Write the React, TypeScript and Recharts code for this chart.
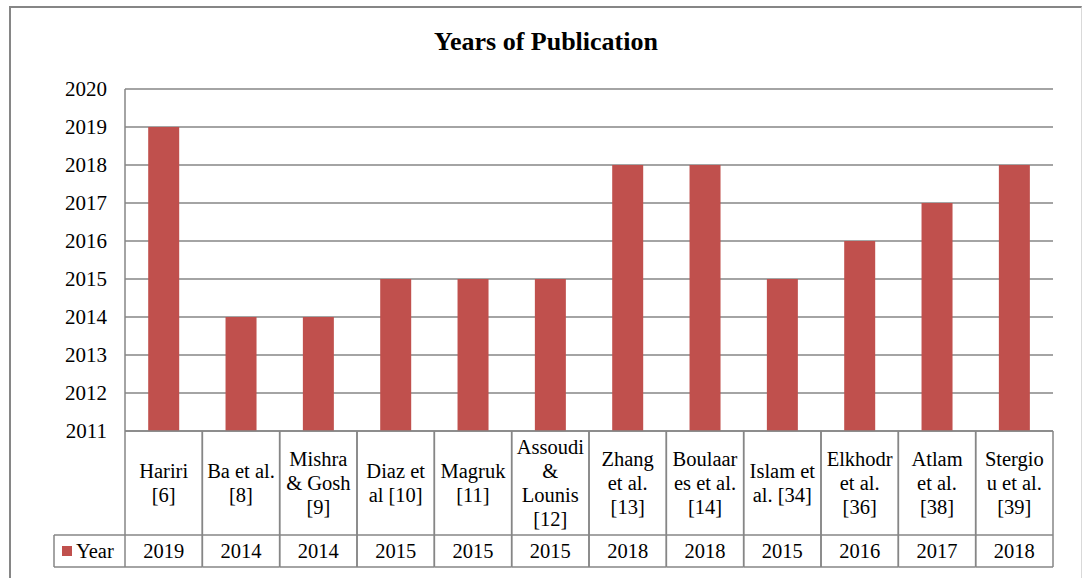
import React from "react";
import { BarChart, Bar, XAxis, YAxis, CartesianGrid } from "recharts";

const labelLines: string[][] = [
  ["Hariri", "[6]"],
  ["Ba et al.", "[8]"],
  ["Mishra", "& Gosh", "[9]"],
  ["Diaz et", "al [10]"],
  ["Magruk", "[11]"],
  ["Assoudi", "&", "Lounis", "[12]"],
  ["Zhang", "et al.", "[13]"],
  ["Boulaar", "es et al.", "[14]"],
  ["Islam et", "al. [34]"],
  ["Elkhodr", "et al.", "[36]"],
  ["Atlam", "et al.", "[38]"],
  ["Stergio", "u et al.", "[39]"],
];
const years: number[] = [2019, 2014, 2014, 2015, 2015, 2015, 2018, 2018, 2015, 2016, 2017, 2018];
const yTicks: number[] = [2011, 2012, 2013, 2014, 2015, 2016, 2017, 2018, 2019, 2020];
const seriesName = "Year";
const title = "Years of Publication";

const data = labelLines.map((lines, i) => ({ name: lines.join("\n"), Year: years[i] }));

const FONT = "Liberation Serif, Tinos, DejaVu Serif, serif";
const GRID = "#868686";
const BAR = "#C0504D";
const ROW1 = 104;
const ROW2 = 32;
const LEGEND_W = 71;
const LINE_H = 24;
const FS = 20.5;

const TableTick = (props: any) => {
  const { x, y, payload } = props;
  const idx: number = payload.index ?? 0;
  const half: number = payload.offset ?? 38.6;
  const left = x - half;
  const right = x + half;
  const lines = labelLines[idx] || [];
  const midY = y + ROW1 / 2;
  const startY = midY - ((lines.length - 1) * LINE_H) / 2;
  return (
    <g>
      <line x1={left} y1={y} x2={left} y2={y + ROW1 + ROW2} stroke={GRID} strokeWidth={1.5} />
      <line x1={right} y1={y} x2={right} y2={y + ROW1 + ROW2} stroke={GRID} strokeWidth={1.5} />
      <line x1={left} y1={y + ROW1} x2={right} y2={y + ROW1} stroke={GRID} strokeWidth={1.5} />
      <line x1={left} y1={y + ROW1 + ROW2} x2={right} y2={y + ROW1 + ROW2} stroke={GRID} strokeWidth={1.5} />
      {lines.map((t, k) => (
        <text key={k} x={x} y={startY + k * LINE_H} textAnchor="middle" dominantBaseline="central"
          style={{ fontFamily: FONT }} fontSize={FS} fill="#000">{t}</text>
      ))}
      <text x={x} y={y + ROW1 + ROW2 / 2} textAnchor="middle" dominantBaseline="central"
        style={{ fontFamily: FONT }} fontSize={FS} fill="#000">{years[idx]}</text>
      {idx === 0 && (
        <g>
          <line x1={left - LEGEND_W} y1={y + ROW1} x2={left} y2={y + ROW1} stroke={GRID} strokeWidth={1.5} />
          <line x1={left - LEGEND_W} y1={y + ROW1 + ROW2} x2={left} y2={y + ROW1 + ROW2} stroke={GRID} strokeWidth={1.5} />
          <line x1={left - LEGEND_W} y1={y + ROW1} x2={left - LEGEND_W} y2={y + ROW1 + ROW2} stroke={GRID} strokeWidth={1.5} />
          <rect x={left - LEGEND_W + 8} y={y + ROW1 + ROW2 / 2 - 5} width={10} height={10} fill={BAR} />
          <text x={left - LEGEND_W + 22} y={y + ROW1 + ROW2 / 2} dominantBaseline="central"
            style={{ fontFamily: FONT }} fontSize={FS} fill="#000">{seriesName}</text>
        </g>
      )}
    </g>
  );
};

export default function App() {
  return (
    <div style={{ position: "absolute", left: 0, top: 0, width: 1082, height: 578, background: "#fff", fontFamily: FONT }}>
      <div style={{ position: "absolute", left: 9, top: 6, width: 1070, height: 580, borderLeft: "2px solid #868686", borderTop: "2px solid #868686", borderRight: "1px solid #d9d9d9" }} />
      <div style={{ position: "absolute", left: 0, top: 27, width: 1092, lineHeight: "30px", textAlign: "center", fontFamily: FONT, fontWeight: "bold", fontSize: 26, color: "#000" }}>{title}</div>
      <div style={{ position: "absolute", left: 0, top: 0 }}>
        <BarChart width={1082} height={578} data={data} margin={{ top: 89, right: 29, bottom: 11, left: 55 }} barCategoryGap="30%" style={{ fontFamily: FONT }}>
          <CartesianGrid vertical={false} stroke={GRID} strokeWidth={1.5} />
          <XAxis dataKey="name" height={136} tickLine={false} tickSize={0} tickMargin={0} axisLine={{ stroke: GRID, strokeWidth: 1.5 }} tick={<TableTick />} interval={0} />
          <YAxis width={70} domain={[2011, 2020]} ticks={yTicks} allowDataOverflow tickLine={false} tickSize={0} tickMargin={18}
            axisLine={{ stroke: GRID, strokeWidth: 1.5 }} tick={{ style: { fontFamily: FONT }, fontSize: 21, fill: "#000" }} />
          <Bar dataKey="Year" fill={BAR} isAnimationActive={false} />
        </BarChart>
      </div>
    </div>
  );
}
